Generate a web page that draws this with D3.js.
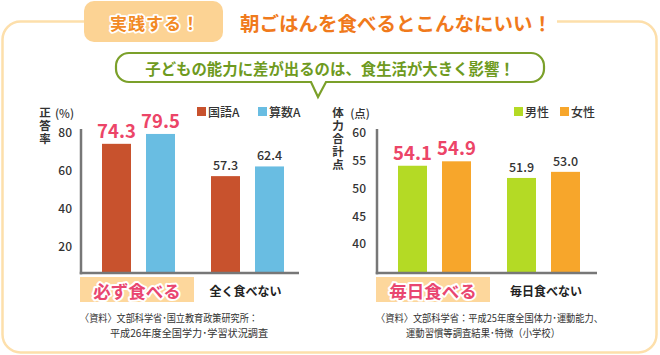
<!DOCTYPE html>
<html>
<head>
<meta charset="utf-8">
<script src="https://cdn.jsdelivr.net/npm/d3@7"></script>
<style>
  html, body { margin: 0; padding: 0; background: #fff; }
  svg { display: block; }
  text { font-family: 'Noto Sans CJK JP', 'Noto Sans', sans-serif; }
</style>
</head>
<body>
<script>
// ---------- data ----------
const headerBadge = "実践する！";
const headerTitle = "朝ごはんを食べるとこんなにいい！";
const bubbleText = "子どもの能力に差が出るのは、食生活が大きく影響！";

const leftCategories = ["必ず食べる", "全く食べない"];
const leftSeries = ["国語A", "算数A"];
const leftValues = [[74.3, 79.5], [57.3, 62.4]];
const leftTicks = [20, 40, 60, 80];
const leftYTitle = "正答率";
const leftUnit = "(%)";
const leftSource = ["〈資料〉文部科学省･国立教育政策研究所：", "平成26年度全国学力･学習状況調査"];

const rightCategories = ["毎日食べる", "毎日食べない"];
const rightSeries = ["男性", "女性"];
const rightValues = [[54.1, 54.9], [51.9, 53.0]];
const rightTicks = [40, 45, 50, 55, 60];
const rightYTitle = "体力合計点";
const rightUnit = "(点)";
const rightSource = ["〈資料〉文部科学省：平成25年度全国体力･運動能力、", "運動習慣等調査結果･特徴（小学校）"];

// ---------- svg ----------
const W = 660, H = 355;
const svg = d3.select("body").append("svg").attr("width", W).attr("height", H);

// outer frame
svg.append("rect").attr("x", 2.5).attr("y", 21.5).attr("width", 654).attr("height", 331)
  .attr("rx", 18).attr("fill", "none").attr("stroke", "#FDDFAB").attr("stroke-width", 2.5);
// gap for title
svg.append("rect").attr("x", 223).attr("y", 12).attr("width", 334).attr("height", 20).attr("fill", "#fff");

// badge
svg.append("rect").attr("x", 84).attr("y", 1).attr("width", 139).attr("height", 41)
  .attr("rx", 10).attr("fill", "#FCD394");
svg.append("text").attr("x", 155).attr("y", 22).attr("text-anchor", "middle")
  .attr("dominant-baseline", "central")
  .attr("font-size", 17).attr("font-weight", 700).attr("letter-spacing", 1)
  .attr("fill", "#F28A24").attr("stroke", "#fff").attr("stroke-width", 3.5)
  .attr("stroke-linejoin", "round").attr("paint-order", "stroke")
  .text(headerBadge);

// title
svg.append("text").attr("x", 240).attr("y", 22)
  .attr("dominant-baseline", "central")
  .attr("font-size", 19.5).attr("font-weight", 700)
  .attr("fill", "#F07A1C").text(headerTitle);

// speech bubble
(function () {
  const x0 = 116, x1 = 544, y0 = 53, y1 = 82, r = 13;
  const tx = 318, tl = 311, tr = 326, ty = 97;
  const p = d3.path();
  p.moveTo(x0 + r, y0);
  p.lineTo(x1 - r, y0);
  p.arcTo(x1, y0, x1, y0 + r, r);
  p.lineTo(x1, y1 - r);
  p.arcTo(x1, y1, x1 - r, y1, r);
  p.lineTo(tr, y1);
  p.lineTo(tx, ty);
  p.lineTo(tl, y1);
  p.lineTo(x0 + r, y1);
  p.arcTo(x0, y1, x0, y1 - r, r);
  p.lineTo(x0, y0 + r);
  p.arcTo(x0, y0, x0 + r, y0, r);
  p.closePath();
  svg.append("path").attr("d", p.toString()).attr("fill", "#fff")
    .attr("stroke", "#7BA02A").attr("stroke-width", 2.2);
  svg.append("text").attr("x", 330).attr("y", 68).attr("text-anchor", "middle")
    .attr("dominant-baseline", "central")
    .attr("font-size", 15.4).attr("font-weight", 700).attr("fill", "#6E9A20")
    .text(bubbleText);
})();

// ---------- chart builder ----------
function drawChart(cfg) {
  const g = svg.append("g");
  const baseY = 273;

  const x = d3.scaleBand().domain(cfg.categories).range(cfg.xRange).padding(0);
  const xi = d3.scaleBand().domain(cfg.series).range([-36.5, 36.5])
    .paddingInner(15 / 44).paddingOuter(0);
  const y = d3.scaleLinear().domain(cfg.yDomain).range(cfg.yRange);

  // y axis tick labels
  const axis = d3.axisLeft(y).tickValues(cfg.ticks).tickSize(0).tickPadding(cfg.tickPad);
  const ag = g.append("g").attr("transform", `translate(${cfg.axisX},0)`).call(axis);
  ag.select(".domain").remove();
  ag.selectAll("text").attr("font-size", 12).attr("font-weight", 500).attr("fill", "#333")
    .attr("font-family", "'Noto Sans CJK JP', 'Noto Sans', sans-serif");

  // bars
  cfg.categories.forEach((c, ci) => {
    const cx = x(c) + x.bandwidth() / 2;
    cfg.series.forEach((s, si) => {
      const v = cfg.values[ci][si];
      const bx = cx + xi(s);
      g.append("rect").attr("x", bx).attr("y", y(v))
        .attr("width", xi.bandwidth()).attr("height", baseY - y(v))
        .attr("fill", cfg.colors[si]);
      const big = ci === 0;
      g.append("text").attr("x", bx + xi.bandwidth() / 2).attr("y", y(v) - 6)
        .attr("text-anchor", "middle")
        .attr("font-size", big ? 18.5 : 12.5)
        .attr("font-weight", big ? 700 : 500)
        .attr("fill", big ? "#EC4568" : "#333")
        .text(v.toFixed(1));
    });
    // category label
    if (ci === 0) {
      g.append("rect").attr("x", cx - 58.5).attr("y", 277).attr("width", 114).attr("height", 25)
        .attr("fill", "#FDD79C");
      g.append("text").attr("x", cx - 1.5).attr("y", 290).attr("text-anchor", "middle")
        .attr("dominant-baseline", "central")
        .attr("font-size", 17.5).attr("font-weight", 700)
        .attr("fill", "#E94670").attr("stroke", "#fff").attr("stroke-width", 4)
        .attr("stroke-linejoin", "round").attr("paint-order", "stroke")
        .text(c);
    } else {
      g.append("text").attr("x", cx + cfg.cat2Off).attr("y", 290).attr("text-anchor", "middle")
        .attr("dominant-baseline", "central")
        .attr("font-size", 12).attr("font-weight", 700).attr("fill", "#222")
        .text(c);
    }
  });

  // axis lines
  g.append("line").attr("x1", cfg.axisX).attr("x2", cfg.axisX).attr("y1", 129).attr("y2", baseY + 1.3)
    .attr("stroke", "#777").attr("stroke-width", 2.5);
  g.append("line").attr("x1", cfg.axisX - 1.25).attr("x2", cfg.axisEnd).attr("y1", baseY).attr("y2", baseY)
    .attr("stroke", "#777").attr("stroke-width", 2.6);

  // y title (vertical, single text)
  g.append("text").attr("x", cfg.titleX).attr("y", 107)
    .style("writing-mode", "vertical-rl")
    .attr("letter-spacing", 1.5)
    .attr("font-size", 11.5).attr("font-weight", 700).attr("fill", "#333")
    .text(cfg.yTitle);
  g.append("text").attr("x", cfg.unitX).attr("y", 113)
    .attr("text-anchor", "middle").attr("dominant-baseline", "central")
    .attr("font-size", 11.5).attr("font-weight", 500).attr("fill", "#333").text(cfg.unit);

  // legend
  cfg.series.forEach((s, si) => {
    const lx = cfg.legendX[si];
    g.append("rect").attr("x", lx).attr("y", 107).attr("width", 9).attr("height", 9)
      .attr("fill", cfg.colors[si]);
    g.append("text").attr("x", lx + 11).attr("y", 111.5).attr("dominant-baseline", "central")
      .attr("font-size", 12).attr("font-weight", 500).attr("fill", "#333").text(s);
  });

  // source
  cfg.source.forEach((line, i) => {
    g.append("text").attr("x", cfg.sourceX[i]).attr("y", 317 + i * 15)
      .attr("dominant-baseline", "central")
      .attr("font-size", 10.5).attr("fill", "#333")
      .attr("textLength", cfg.sourceW[i]).attr("lengthAdjust", "spacingAndGlyphs")
      .text(line);
  });
}

drawChart({
  categories: leftCategories, series: leftSeries, values: leftValues, ticks: leftTicks,
  colors: ["#C8522D", "#69BDE2"],
  xRange: [84, 302], yDomain: [0, 80], yRange: [285, 133],
  axisX: 81, axisEnd: 299, tickPad: 9, cat2Off: -2,
  yTitle: leftYTitle, titleX: 45, unit: leftUnit, unitX: 64.5,
  legendX: [197, 258],
  source: leftSource, sourceX: [80, 110], sourceW: [178, 158]
});

drawChart({
  categories: rightCategories, series: rightSeries, values: rightValues, ticks: rightTicks,
  colors: ["#B4DA25", "#F7A62B"],
  xRange: [380, 598], yDomain: [40, 60], yRange: [244, 133],
  axisX: 377, axisEnd: 597, tickPad: 11, cat2Off: 2.5,
  yTitle: rightYTitle, titleX: 338, unit: rightUnit, unitX: 360,
  legendX: [514, 560],
  source: rightSource, sourceX: [376, 406], sourceW: [227, 154]
});
</script>
</body>
</html>
